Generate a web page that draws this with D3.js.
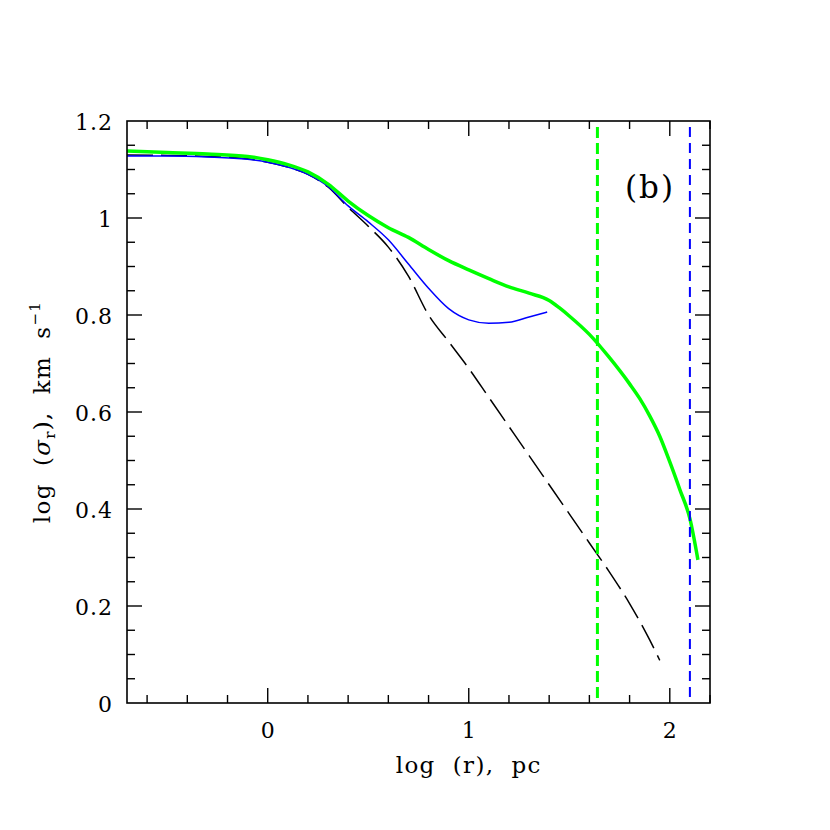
<!DOCTYPE html>
<html>
<head>
<meta charset="utf-8">
<script src="https://cdn.jsdelivr.net/npm/d3@7"></script>
<style>
  body { margin: 0; background: #fff; }
  text { font-family: "DejaVu Serif", serif; fill: #000; white-space: pre; }
</style>
</head>
<body>
<div id="chart"></div>
<script>
// log r (pc) and log sigma_r values
const blackX = [-0.7, -0.5, -0.3, -0.1, 0.0, 0.1, 0.2, 0.3, 0.4, 0.5, 0.6, 0.7, 0.8, 0.9, 1.0, 1.1, 1.2, 1.3, 1.4, 1.5, 1.6, 1.7, 1.8, 1.9, 1.95];
const blackY = [1.130, 1.129, 1.127, 1.122, 1.115, 1.105, 1.09, 1.064, 1.022, 0.983, 0.94, 0.88, 0.80, 0.745, 0.69, 0.63, 0.57, 0.51, 0.45, 0.39, 0.33, 0.27, 0.205, 0.13, 0.088];

const blueX = [-0.7, -0.5, -0.3, -0.1, 0.0, 0.1, 0.2, 0.3, 0.4, 0.5, 0.6, 0.7, 0.8, 0.9, 1.0, 1.1, 1.2, 1.3, 1.39];
const blueY = [1.128, 1.128, 1.126, 1.121, 1.115, 1.105, 1.09, 1.065, 1.025, 0.992, 0.955, 0.905, 0.855, 0.813, 0.79, 0.783, 0.785, 0.796, 0.806];

const greenX = [-0.7, -0.5, -0.3, -0.1, 0.0, 0.1, 0.2, 0.3, 0.4, 0.5, 0.6, 0.7, 0.8, 0.9, 1.0, 1.1, 1.2, 1.3, 1.4, 1.45, 1.5, 1.6, 1.7, 1.8, 1.85, 1.9, 1.95, 2.0, 2.05, 2.1, 2.14];
const greenY = [1.138, 1.135, 1.132, 1.127, 1.12, 1.11, 1.095, 1.07, 1.035, 1.005, 0.98, 0.96, 0.935, 0.912, 0.893, 0.875, 0.858, 0.845, 0.83, 0.815, 0.798, 0.76, 0.712, 0.658, 0.628, 0.592, 0.55, 0.497, 0.44, 0.38, 0.295];

const vlineGreen = 1.64;
const vlineBlue = 2.1;

const xTicks = [0, 1, 2];
const yTicks = [0, 0.2, 0.4, 0.6, 0.8, 1, 1.2];

const width = 830, height = 830;
const margin = {left: 127, right: 120, top: 121, bottom: 127};

const svg = d3.select("#chart").append("svg")
  .attr("width", width)
  .attr("height", height);

const x = d3.scaleLinear().domain([-0.7, 2.2]).range([margin.left, width - margin.right]);
const y = d3.scaleLinear().domain([0, 1.2]).range([height - margin.bottom, margin.top]);

const x0 = x.range()[0], x1 = x.range()[1];
const y0 = y.range()[0], y1 = y.range()[1];

const plot = svg.append("g");

const line = d3.line()
  .x(d => x(d[0]))
  .y(d => y(d[1]))
  .curve(d3.curveMonotoneX);

// black dashed
plot.append("path")
  .datum(d3.zip(blackX, blackY))
  .attr("d", line)
  .attr("fill", "none")
  .attr("stroke", "#000")
  .attr("stroke-width", 1.5)
  .attr("stroke-dasharray", "26,8");

// blue thin
plot.append("path")
  .datum(d3.zip(blueX, blueY))
  .attr("d", line)
  .attr("fill", "none")
  .attr("stroke", "#0000ff")
  .attr("stroke-width", 1.5);

// green thick
plot.append("path")
  .datum(d3.zip(greenX, greenY))
  .attr("d", line)
  .attr("fill", "none")
  .attr("stroke", "#00ff00")
  .attr("stroke-width", 3.5);

// vertical dashed markers
plot.append("line")
  .attr("x1", x(vlineGreen)).attr("x2", x(vlineGreen))
  .attr("y1", y1 + 6).attr("y2", y0)
  .attr("stroke", "#00ff00")
  .attr("stroke-width", 3)
  .attr("stroke-dasharray", "11,5");

plot.append("line")
  .attr("x1", x(vlineBlue)).attr("x2", x(vlineBlue))
  .attr("y1", y1 + 6).attr("y2", y0)
  .attr("stroke", "#0000ff")
  .attr("stroke-width", 2)
  .attr("stroke-dasharray", "10,6");

// frame
svg.append("rect")
  .attr("x", x0).attr("y", y1)
  .attr("width", x1 - x0).attr("height", y0 - y1)
  .attr("fill", "none")
  .attr("stroke", "#000")
  .attr("stroke-width", 1.6);

// ticks on all four sides, pointing inwards
const major = 15, minor = 8;
const ticksG = svg.append("g").attr("stroke", "#000").attr("stroke-width", 1.4);
d3.range(-6, 23).map(i => i / 10).filter(v => Math.abs(v * 5 - Math.round(v * 5)) < 1e-6).forEach(v => {
  const len = Math.abs(v - Math.round(v)) < 1e-6 ? major : minor;
  ticksG.append("line").attr("x1", x(v)).attr("x2", x(v)).attr("y1", y0).attr("y2", y0 - len);
  ticksG.append("line").attr("x1", x(v)).attr("x2", x(v)).attr("y1", y1).attr("y2", y1 + len);
});
d3.range(1, 24).map(i => i * 0.05).forEach(v => {
  const isMajor = Math.abs(v * 5 - Math.round(v * 5)) < 1e-6;
  const len = isMajor ? major : minor;
  ticksG.append("line").attr("x1", x0).attr("x2", x0 + len).attr("y1", y(v)).attr("y2", y(v));
  ticksG.append("line").attr("x1", x1).attr("x2", x1 - len).attr("y1", y(v)).attr("y2", y(v));
});

// tick labels
svg.selectAll(".xl").data(xTicks).join("text")
  .attr("x", d => x(d)).attr("y", y0 + 35)
  .attr("text-anchor", "middle")
  .attr("font-size", 22)
  .text(d => d);

svg.selectAll(".yl").data(yTicks).join("text")
  .attr("x", x0 - 14).attr("y", d => y(d) + 9)
  .attr("text-anchor", "end")
  .attr("font-size", 22)
  .attr("letter-spacing", 1)
  .text(d => d);

// axis titles
svg.append("text")
  .attr("x", x(1)).attr("y", y0 + 70)
  .attr("text-anchor", "middle")
  .attr("font-size", 23)
  .attr("letter-spacing", 1.3)
  .text("log  (r),  pc");

const yt = svg.append("text")
  .attr("transform", `translate(50,${(y0 + y1) / 2}) rotate(-90)`)
  .attr("text-anchor", "middle")
  .attr("font-size", 23)
  .attr("letter-spacing", 1.3);
yt.append("tspan").text("log  (");
yt.append("tspan").attr("font-style", "italic").text("σ");
yt.append("tspan").attr("font-size", 15).attr("dy", 5).text("r");
yt.append("tspan").attr("dy", -5).text("),  km  s");
yt.append("tspan").attr("font-size", 15).attr("dy", -10).text("−1");

// panel label
svg.append("text")
  .attr("x", 650).attr("y", 198)
  .attr("text-anchor", "middle")
  .attr("font-size", 31)
  .attr("letter-spacing", 2)
  .text("(b)");
</script>
</body>
</html>
